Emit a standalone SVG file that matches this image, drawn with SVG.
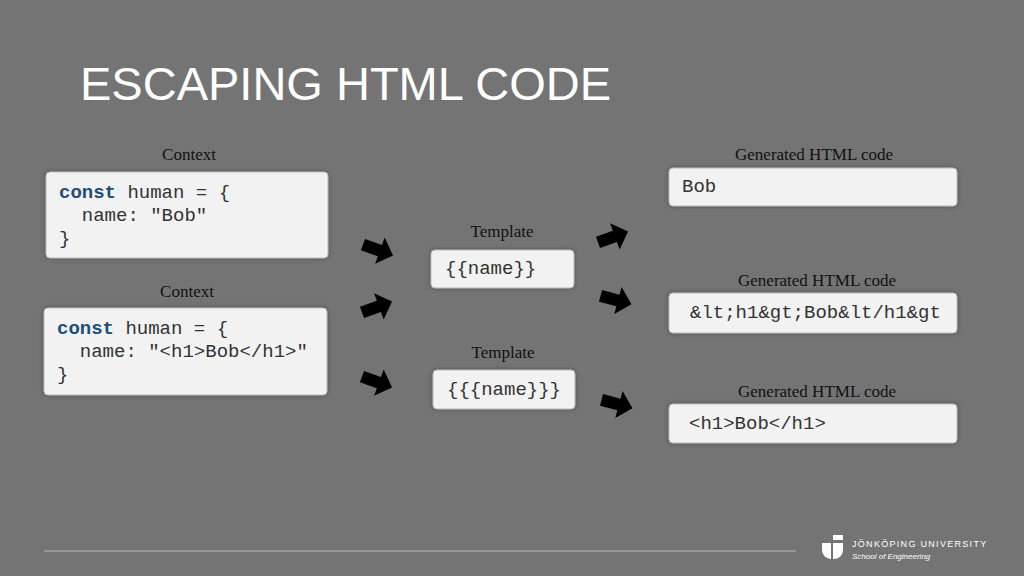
<svg xmlns="http://www.w3.org/2000/svg" width="1024" height="576" viewBox="0 0 1024 576">
<defs>
<filter id="sh" x="-10%" y="-20%" width="120%" height="140%"><feDropShadow dx="0" dy="0" stdDeviation="2" flood-color="#444" flood-opacity="0.8"/></filter>
<path id="arr" d="M-16,-6 L2,-6 L2,-14 L16,0 L2,14 L2,6 L-16,6 Z"/>
</defs>
<style>
.box{fill:#f2f2f2;stroke:#bbb;stroke-width:1;filter:url(#sh)}
.lbl{font-family:"Liberation Serif",serif;font-size:17px;fill:#111;text-anchor:middle}
.code{font-family:"Liberation Mono","Courier New",monospace;font-size:19px;fill:#333}
.kw{font-weight:bold;fill:#1f4e79}
</style>
<rect width="1024" height="576" fill="#747474"/>
<text x="80" y="100" font-family="Liberation Sans,Arial,sans-serif" font-size="47" fill="#fff">ESCAPING HTML CODE</text>
<g id="ctx1"><text class="lbl" x="189" y="160">Context</text><rect class="box" x="46" y="172" width="282" height="86" rx="4"/>
<text class="code" x="59" y="198"><tspan class="kw">const</tspan> human = {</text><text class="code" x="59" y="221" xml:space="preserve">  name: "Bob"</text><text class="code" x="59" y="244">}</text></g>
<g id="ctx2"><text class="lbl" x="187" y="297">Context</text><rect class="box" x="44" y="308" width="283" height="87" rx="4"/>
<text class="code" x="57" y="334"><tspan class="kw">const</tspan> human = {</text><text class="code" x="57" y="357" xml:space="preserve">  name: "&lt;h1&gt;Bob&lt;/h1&gt;"</text><text class="code" x="57" y="380">}</text></g>
<g id="tpl1"><text class="lbl" x="502" y="237">Template</text><rect class="box" x="431" y="250" width="143" height="38" rx="4"/><text class="code" x="445" y="274">{{name}}</text></g>
<g id="tpl2"><text class="lbl" x="503" y="358">Template</text><rect class="box" x="433" y="370" width="142" height="39" rx="4"/><text class="code" x="447" y="395">{{{name}}}</text></g>
<g id="gen1"><text class="lbl" x="814" y="160">Generated HTML code</text><rect class="box" x="669" y="168" width="288" height="38" rx="4"/><text class="code" x="682" y="192">Bob</text></g>
<g id="gen2"><text class="lbl" x="817" y="286">Generated HTML code</text><rect class="box" x="669" y="293" width="288" height="40" rx="4"/><text class="code" x="690" y="318">&amp;lt;h1&amp;gt;Bob&amp;lt/h1&amp;gt</text></g>
<g id="gen3"><text class="lbl" x="817" y="397">Generated HTML code</text><rect class="box" x="669" y="404" width="288" height="39" rx="4"/><text class="code" x="689" y="429">&lt;h1&gt;Bob&lt;/h1&gt;</text></g>
<g id="connectors" fill="#000">
<use href="#arr" transform="translate(378,250) rotate(20)"/>
<use href="#arr" transform="translate(377,307) rotate(-20)"/>
<use href="#arr" transform="translate(377,382) rotate(20)"/>
<use href="#arr" transform="translate(613,237) rotate(-20)"/>
<use href="#arr" transform="translate(616,300) rotate(15)"/>
<use href="#arr" transform="translate(617,404) rotate(15)"/>
</g>
<line x1="44" y1="551" x2="796" y2="551" stroke="#bbb" stroke-width="1"/>
<g id="logo" fill="#fff">
<rect x="833" y="535" width="10" height="5"/>
<path d="M822,543 h9 v16 a9,9 0 0 1 -9,-9 Z"/>
<path d="M833,543 h10 v7 a9,9 0 0 1 -10,9 Z"/>
<text x="852" y="547" font-family="Liberation Sans,sans-serif" font-size="9" letter-spacing="1.3">JÖNKÖPING UNIVERSITY</text>
<text x="852" y="559" font-family="Liberation Sans,sans-serif" font-size="8" font-style="italic">School of Engineering</text>
</g>
</svg>
